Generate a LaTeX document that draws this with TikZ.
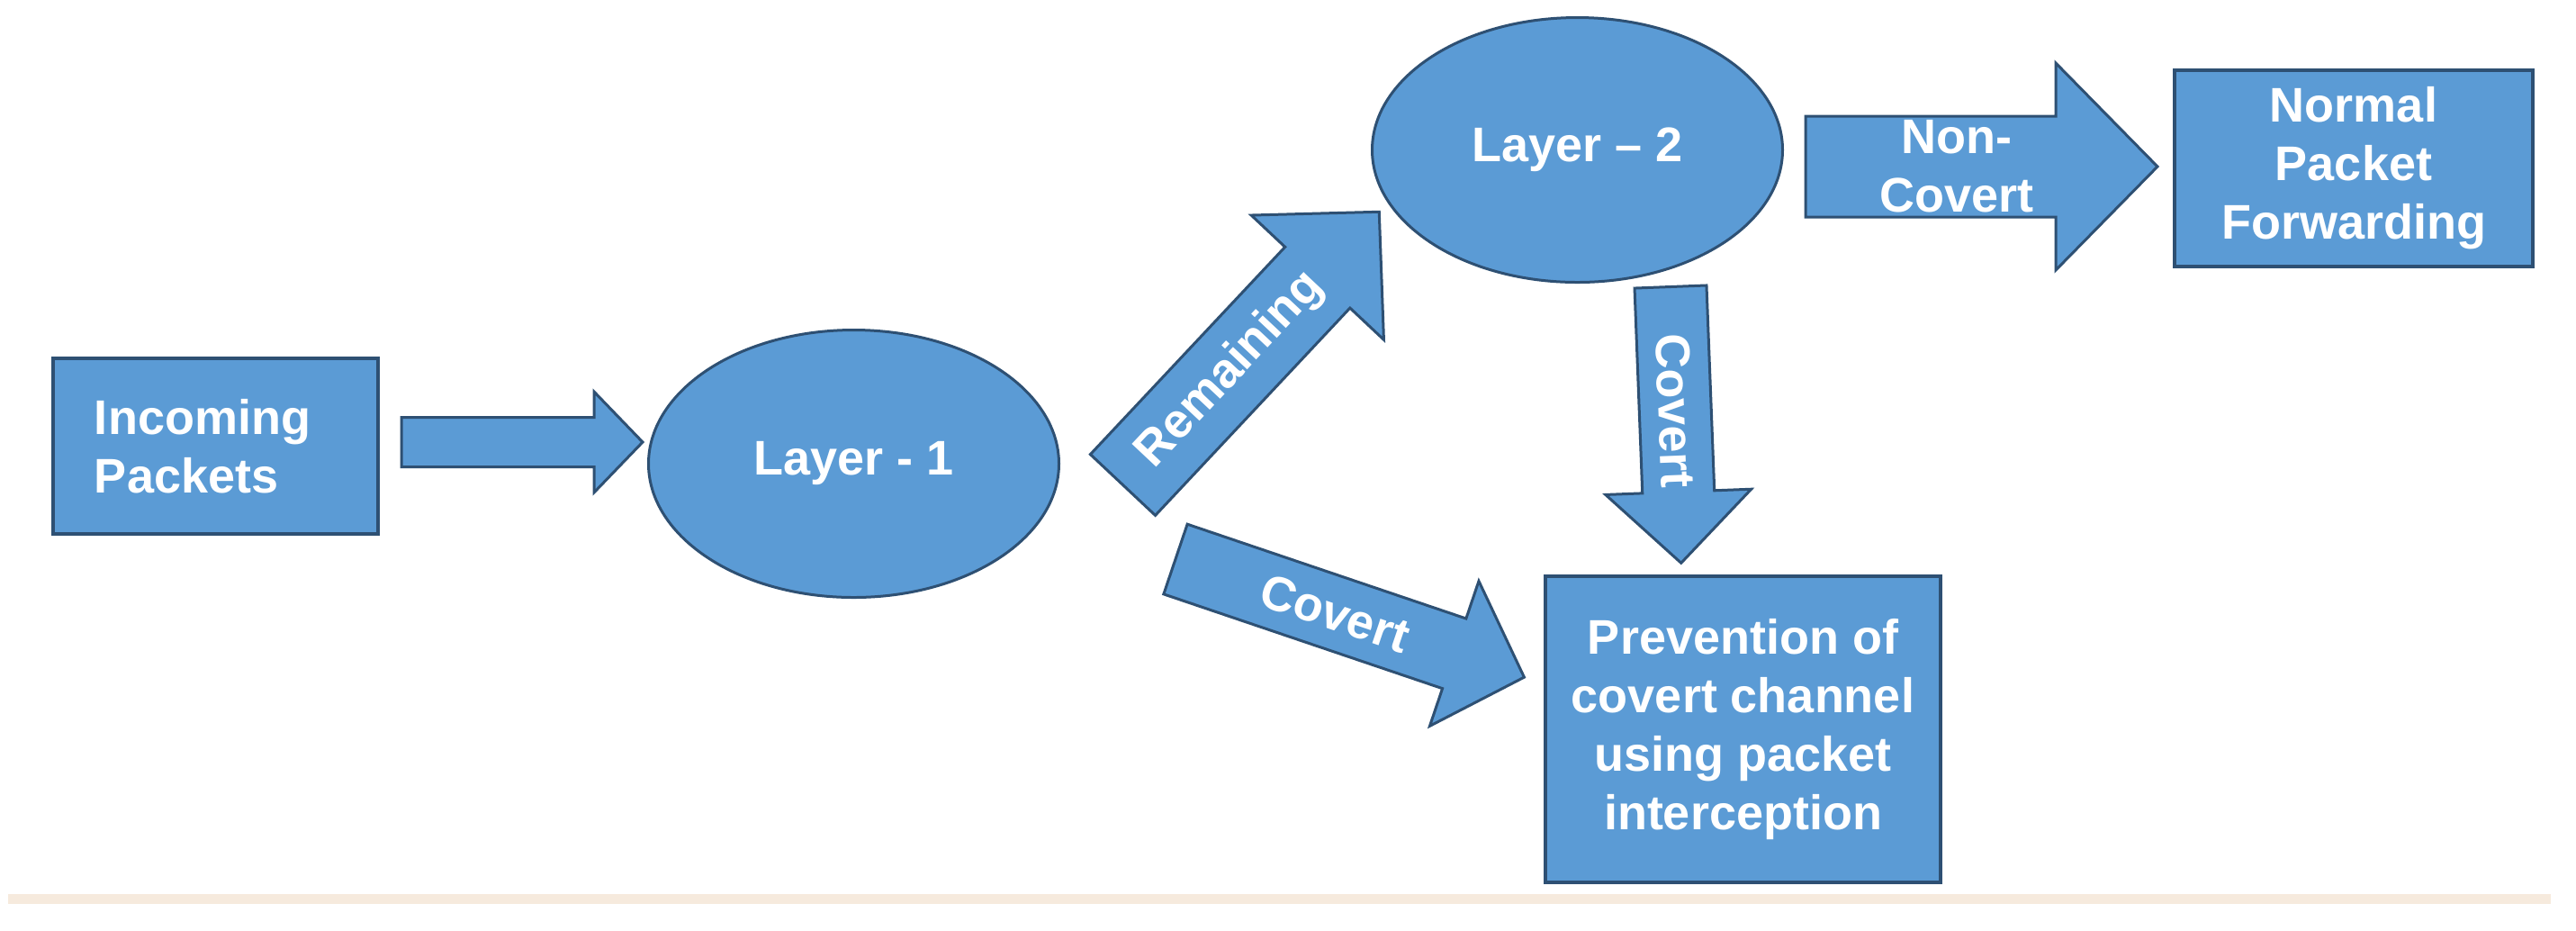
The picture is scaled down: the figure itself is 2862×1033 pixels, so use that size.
\documentclass[tikz,border=0pt]{standalone}
\usepackage{fontspec}
\setmainfont{Liberation Sans}
\usetikzlibrary{shapes.geometric}
\definecolor{bfill}{RGB}{91,155,213}
\definecolor{bline}{RGB}{46,80,115}
\definecolor{rulecol}{RGB}{246,234,221}
\newcommand\lblfont{\bfseries\fontsize{13.5}{16.25}\selectfont}
\tikzset{
  boxnode/.style={rectangle, draw=bline, line width=1pt, fill=bfill, text=white,
    font=\lblfont, inner sep=0pt, align=center},
  ellnode/.style={ellipse, draw=bline, line width=0.75pt, fill=bfill, text=white,
    font=\lblfont, inner sep=0pt},
  barrow/.style={draw=bline, line width=0.75pt, fill=bfill, line join=miter},
  lbl/.style={text=white, font=\lblfont, inner sep=0pt, align=center}
}
% #1 tail coordinate, #2 angle, #3 length, #4 shaft half width, #5 head half width,
% #6 head length, #7 label position along arrow, #8 label text
\newcommand\blockarrow[8]{%
  \begin{scope}[shift={(#1)},rotate=#2]
    \draw[barrow] (0,-#4) -- ({#3-#6},-#4) -- ({#3-#6},-#5) -- (#3,0)
      -- ({#3-#6},#5) -- ({#3-#6},#4) -- (0,#4) -- cycle;
    \node[lbl, transform shape] at (#7,0) {#8};
  \end{scope}}
\begin{document}
\begin{tikzpicture}[x=0.25pt,y=-0.25pt]
  \useasboundingbox (0,0) rectangle (2862,1033);
  \fill[white] (0,0) rectangle (2862,1033);

  % nodes
  \node[boxnode, align=left, text width=67.25pt, inner xsep=11.5pt,
        minimum height=48.75pt] (inc) at (239.5,495.5) {Incoming\\Packets};
  \node[ellnode, minimum width=114pt, minimum height=74.25pt] (l1) at (948.5,515) {Layer - 1};
  \node[ellnode, minimum width=114pt, minimum height=73.5pt] (l2) at (1752.5,166.5) {Layer -- 2};
  \node[boxnode, minimum width=99.5pt, minimum height=54.5pt] (npf) at (2615,187)
        {Normal\\Packet\\Forwarding};
  \node[boxnode, minimum width=109.75pt, minimum height=85pt] (pcc) at (1936.5,810)
        {Prevention of\\covert channel\\using packet\\interception};

  % arrow tails
  \coordinate (a1) at (446,491);
  \coordinate (a2) at (1247.5,538.5);
  \coordinate (a3) at (1856,318.5);
  \coordinate (a4) at (1306,621);
  \coordinate (a5) at (2006,185);

  % block arrows
  \blockarrow{a1}{0}{268}{27.5}{56}{54}{100}{}
  \blockarrow{a2}{46.8}{416}{49.5}{101}{100}{175}{Remaining}
  \blockarrow{a3}{-87.8}{307}{40}{81}{79}{138}{Covert}
  \blockarrow{a4}{-18.7}{409}{41}{85}{82}{187}{Covert}
  \blockarrow{a5}{0}{391}{56}{115}{113}{168}{\fontsize{13.5}{15}\selectfont Non-\\Covert}

  % bottom rule
  \fill[rulecol] (9,993) rectangle (2834,1004);
\end{tikzpicture}
\end{document}
